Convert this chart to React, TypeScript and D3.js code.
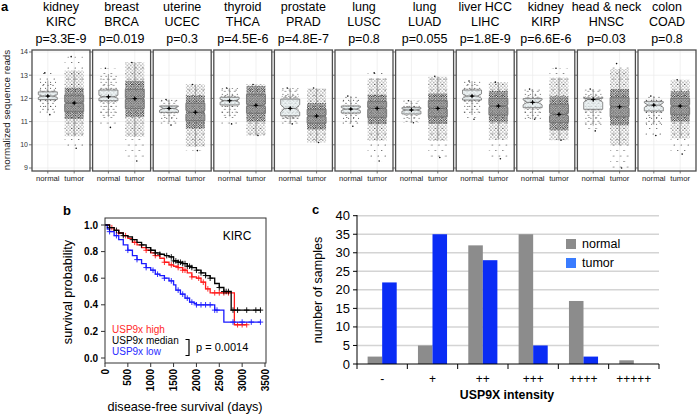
import React from "react";
import * as d3 from "d3";

const FONT = "'Liberation Sans', Arial, Helvetica, sans-serif";

// ---------- Panel a data ----------
const sites = ["kidney", "breast", "uterine", "thyroid", "prostate", "lung", "lung", "liver HCC", "kidney", "head & neck", "colon"];
const codes = ["KIRC", "BRCA", "UCEC", "THCA", "PRAD", "LUSC", "LUAD", "LIHC", "KIRP", "HNSC", "COAD"];
const pLabels = ["p=3.3E-9", "p=0.019", "p=0.3", "p=4.5E-6", "p=4.8E-7", "p=0.8", "p=0.055", "p=1.8E-9", "p=6.6E-6", "p=0.03", "p=0.8"];
const groups = ["normal", "tumor"];
const normalQ1 = [11.95, 11.9, 11.4, 11.72, 11.25, 11.37, 11.33, 11.93, 11.6, 11.53, 11.46];
const normalMed = [12.1, 12.07, 11.57, 11.9, 11.57, 11.54, 11.5, 12.1, 11.83, 11.95, 11.71];
const normalQ3 = [12.28, 12.36, 11.67, 12.05, 11.97, 11.67, 11.6, 12.36, 11.99, 12.0, 11.86];
const normalMin = [11.3, 10.75, 10.85, 10.9, 10.9, 10.8, 10.95, 11.1, 11.1, 10.6, 10.4];
const normalMax = [13.1, 13.3, 11.95, 12.45, 12.45, 12.1, 11.9, 12.75, 12.4, 12.4, 12.1];
const normalN = [72, 113, 24, 59, 52, 51, 59, 50, 32, 44, 41];
const tumorQ1 = [11.43, 11.57, 11.04, 11.36, 10.93, 11.19, 11.21, 11.29, 10.97, 11.21, 11.31];
const tumorMed = [11.8, 11.99, 11.4, 11.7, 11.24, 11.57, 11.57, 11.67, 11.31, 11.64, 11.67];
const tumorQ3 = [12.14, 12.39, 11.79, 12.17, 11.53, 11.86, 11.9, 12.0, 11.74, 12.03, 12.0];
const tumorMin = [9.85, 9.3, 9.75, 10.4, 10.1, 9.3, 9.45, 9.4, 10.2, 9.0, 9.6];
const tumorMax = [13.8, 13.55, 12.6, 12.6, 12.45, 13.1, 12.95, 12.7, 13.3, 13.5, 12.8];
const tumorN = [534, 1100, 180, 510, 498, 502, 517, 371, 291, 520, 290];
const yTicksA = [9, 10, 11, 12, 13, 14];

// ---------- Panel b data ----------
const highT = [0, 100, 200, 300, 400, 500, 600, 700, 800, 900, 1000, 1100, 1200, 1300, 1400, 1500, 1600, 1700, 1800, 1900, 2000, 2100, 2200, 2300, 2830];
const highS = [1.0, 0.98, 0.96, 0.94, 0.92, 0.9, 0.87, 0.85, 0.83, 0.81, 0.79, 0.77, 0.75, 0.72, 0.7, 0.69, 0.68, 0.66, 0.64, 0.61, 0.6, 0.57, 0.52, 0.49, 0.25];
const highEnd = 3100;
const highCensor = [150, 300, 450, 650, 900, 1100, 1300, 1450, 1600, 1700, 1750, 1900, 2050, 2150, 2250, 2400, 2500, 2600, 2700, 2900, 3000, 3100];
const medT = [0, 100, 200, 300, 400, 500, 600, 700, 800, 900, 1000, 1100, 1200, 1300, 1400, 1500, 1600, 1700, 1800, 1900, 2000, 2100, 2200, 2300, 2400, 2500, 2600, 2760];
const medS = [1.0, 0.98, 0.96, 0.94, 0.92, 0.91, 0.89, 0.87, 0.85, 0.83, 0.81, 0.79, 0.78, 0.77, 0.76, 0.73, 0.72, 0.71, 0.69, 0.68, 0.66, 0.64, 0.62, 0.6, 0.56, 0.53, 0.5, 0.36];
const medEnd = 3400;
const medCensor = [100, 250, 400, 600, 800, 1000, 1100, 1200, 1350, 1450, 1500, 1550, 1600, 1650, 1700, 1750, 1800, 1850, 1900, 2000, 2100, 2200, 2300, 2500, 2600, 2650, 2700, 2800, 2900, 3100, 3300, 3400];
const lowT = [0, 50, 100, 200, 300, 400, 500, 600, 700, 800, 900, 1000, 1100, 1200, 1300, 1400, 1500, 1550, 1650, 1750, 1850, 1950, 2000, 2400, 2600];
const lowS = [1.0, 0.97, 0.95, 0.92, 0.89, 0.85, 0.81, 0.77, 0.74, 0.71, 0.68, 0.66, 0.63, 0.62, 0.6, 0.58, 0.55, 0.51, 0.48, 0.45, 0.42, 0.41, 0.4, 0.36, 0.27];
const lowEnd = 3400;
const lowCensor = [100, 250, 500, 700, 900, 1050, 1150, 1300, 1450, 1600, 1700, 1800, 1900, 2000, 2100, 2200, 2300, 2400, 2450, 2800, 3000, 3200, 3400];
const xTicksB = [0, 500, 1000, 1500, 2000, 2500, 3000, 3500];
const yTicksB = [0, 0.2, 0.4, 0.6, 0.8, 1.0];

// ---------- Panel c data ----------
const intensity = ["-", "+", "++", "+++", "++++", "+++++"];
const series = ["normal", "tumor"];
const normalCounts = [2, 5, 32, 35, 17, 1];
const tumorCounts = [22, 35, 28, 5, 2, 0];
const yTicksC = [0, 5, 10, 15, 20, 25, 30, 35, 40];

// ---------- Panel a ----------
const yA = d3.scaleLinear().domain([9, 14]).range([168, 52]);
const panelW = 58;
const panelLeft = (i: number) => 32 + i * 60.6;
const xA = d3.scalePoint().domain(groups).range([0, panelW]).padding(0.6);

function BoxGroup({ cx, q1, med, q3, mn, mx, n, tumor }: any) {
  const iqr = q3 - q1;
  const hiW = Math.min(mx, q3 + 1.5 * iqr);
  const loW = Math.max(mn, q1 - 1.5 * iqr);
  const notch = (1.58 * iqr) / Math.sqrt(n);
  const w = 19;
  const ind = 4;
  const L = cx - w / 2, R = cx + w / 2;
  const jw = tumor ? 9.5 : 8.5;
  const path = [
    [L, yA(q3)], [R, yA(q3)], [R, yA(med + notch)], [R - ind, yA(med)], [R, yA(med - notch)],
    [R, yA(q1)], [L, yA(q1)], [L, yA(med - notch)], [L + ind, yA(med)], [L, yA(med + notch)],
  ];
  const d = "M" + path.map((p) => p.join(",")).join("L") + "Z";
  const innerHi = q3 + (tumor ? 0.45 : 0.2) * iqr;
  const innerLo = q1 - (tumor ? 0.45 : 0.2) * iqr;
  return (
    <g>
      <rect x={cx - jw} width={jw * 2} y={yA(mx)} height={yA(mn) - yA(mx)} fill="url(#vs)" />
      <rect x={cx - jw} width={jw * 2} y={yA(hiW)} height={yA(loW) - yA(hiW)} fill={tumor ? "url(#sp)" : "url(#vs2)"} />
      <rect x={cx - jw} width={jw * 2} y={yA(innerHi)} height={yA(innerLo) - yA(innerHi)} fill={tumor ? "url(#dn)" : "url(#sp)"} />
      <circle cx={cx - 3} cy={yA(mx)} r={0.8} fill="#111" />
      <circle cx={cx + 2} cy={yA(mn)} r={0.8} fill="#111" />
      <line x1={cx} x2={cx} y1={yA(q3)} y2={yA(hiW)} stroke="#8a8a8a" strokeWidth={0.8} />
      <line x1={cx} x2={cx} y1={yA(q1)} y2={yA(loW)} stroke="#8a8a8a" strokeWidth={0.8} />
      <path d={d} fill={tumor ? "#8f8f8f" : "#e8f1f2"} fillOpacity={tumor ? 0.55 : 0.7} stroke="#6e6e6e" strokeWidth={0.8} />
      <line x1={L + ind} x2={R - ind} y1={yA(med)} y2={yA(med)} stroke="#555" strokeWidth={0.8} />
      <line x1={cx - 2.2} x2={cx + 2.2} y1={yA(med)} y2={yA(med)} stroke="#000" strokeWidth={1} />
      <line x1={cx} x2={cx} y1={yA(med) - 2.2} y2={yA(med) + 2.2} stroke="#000" strokeWidth={1} />
      <circle cx={cx} cy={yA(med)} r={1.1} fill="#000" />
    </g>
  );
}

function PanelA() {
  return (
    <g>
      <text x={1} y={11} fontSize={13} fontWeight="bold" fontFamily={FONT}>a</text>
      <text transform={`translate(10,110) rotate(-90)`} textAnchor="middle" fontSize={9.8} fontFamily={FONT} fill="#222">normalized sequence reads</text>
      {yTicksA.map((t) => (
        <text key={t} x={28} y={yA(t)} dy="0.35em" textAnchor="end" fontSize={7} fontFamily={FONT} fill="#333">{t}</text>
      ))}
      {codes.map((code, i) => (
        <g key={code + i} transform={`translate(${panelLeft(i)},0)`}>
          {yTicksA.map((t) => (
            <line key={t} x1={0} x2={panelW} y1={yA(t)} y2={yA(t)} stroke="#ebebeb" strokeWidth={0.7} />
          ))}
          {groups.map((g) => (
            <line key={g} x1={xA(g)} x2={xA(g)} y1={50} y2={171} stroke="#ebebeb" strokeWidth={0.7} />
          ))}
          <BoxGroup cx={xA("normal")} q1={normalQ1[i]} med={normalMed[i]} q3={normalQ3[i]} mn={normalMin[i]} mx={normalMax[i]} n={normalN[i]} tumor={false} />
          <BoxGroup cx={xA("tumor")} q1={tumorQ1[i]} med={tumorMed[i]} q3={tumorQ3[i]} mn={tumorMin[i]} mx={tumorMax[i]} n={tumorN[i]} tumor={true} />
          <rect x={0} y={50} width={panelW} height={121} fill="none" stroke="#4d4d4d" strokeWidth={1.3} />
          {yTicksA.map((t) => (
            <line key={t} x1={-3} x2={0} y1={yA(t)} y2={yA(t)} stroke="#555" strokeWidth={0.8} />
          ))}
          {groups.map((g) => (
            <g key={g}>
              <line x1={xA(g)} x2={xA(g)} y1={171} y2={173.5} stroke="#555" strokeWidth={0.8} />
              <text x={xA(g)} y={181} textAnchor="middle" fontSize={7.7} fontFamily={FONT} fill="#222">{g}</text>
            </g>
          ))}
          <text x={panelW / 2} y={10.5} textAnchor="middle" fontSize={12.5} fontFamily={FONT}>{sites[i]}</text>
          <text x={panelW / 2} y={26} textAnchor="middle" fontSize={12.5} fontFamily={FONT}>{code}</text>
          <text x={panelW / 2} y={42.5} textAnchor="middle" fontSize={12.5} fontFamily={FONT}>{pLabels[i]}</text>
        </g>
      ))}
    </g>
  );
}

// ---------- Panel b ----------
const xB = d3.scaleLinear().domain([0, 3500]).range([105, 265]);
const yB = d3.scaleLinear().domain([0, 1]).range([358, 225]);
const stepLine = d3.line<[number, number]>().x((d) => xB(d[0])).y((d) => yB(d[1])).curve(d3.curveStepAfter);

function KM({ T, S, end, censor, color }: any) {
  const pts: [number, number][] = T.map((t: number, i: number) => [t, S[i]]);
  pts.push([end, S[S.length - 1]]);
  const at = (t: number) => {
    let v = S[0];
    for (let i = 0; i < T.length; i++) if (T[i] <= t) v = S[i];
    return v;
  };
  return (
    <g>
      <path d={stepLine(pts) || ""} fill="none" stroke={color} strokeWidth={1.3} />
      {censor.map((c: number, i: number) => {
        const x = xB(c), y = yB(at(c));
        return (
          <g key={i} stroke={color} strokeWidth={0.9}>
            <line x1={x - 2.8} x2={x + 2.8} y1={y} y2={y} />
            <line x1={x} x2={x} y1={y - 2.8} y2={y + 2.8} />
          </g>
        );
      })}
    </g>
  );
}

function PanelB() {
  return (
    <g fontFamily={FONT}>
      <text x={63} y={215} fontSize={13} fontWeight="bold">b</text>
      <KM T={highT} S={highS} end={highEnd} censor={highCensor} color="#ff1a1a" />
      <KM T={lowT} S={lowS} end={lowEnd} censor={lowCensor} color="#1a1aff" />
      <KM T={medT} S={medS} end={medEnd} censor={medCensor} color="#000" />
      <rect x={105} y={218} width={161} height={145} fill="none" stroke="#333" strokeWidth={1} />
      {yTicksB.map((t) => (
        <g key={t}>
          <line x1={101} x2={105} y1={yB(t)} y2={yB(t)} stroke="#333" />
          <text x={98} y={yB(t)} dy="0.35em" textAnchor="end" fontSize={10} fontWeight="bold">{d3.format(".1f")(t)}</text>
        </g>
      ))}
      {xTicksB.map((t) => (
        <g key={t}>
          <line x1={xB(t)} x2={xB(t)} y1={363} y2={367} stroke="#333" />
          <text transform={`translate(${xB(t)},369) rotate(-90)`} dy="0.35em" textAnchor="end" fontSize={10} fontWeight="bold">{t}</text>
        </g>
      ))}
      <text transform="translate(72,292) rotate(-90)" textAnchor="middle" fontSize={12.7}>survival probability</text>
      <text x={185} y={411} textAnchor="middle" fontSize={12.7}>disease-free survival (days)</text>
      <text x={237} y={240} textAnchor="middle" fontSize={12}>KIRC</text>
      <text x={112} y={333} fontSize={10} fill="#ff2a2a">USP9x high</text>
      <text x={112} y={344} fontSize={10} fill="#000">USP9x median</text>
      <text x={112} y={355} fontSize={10} fill="#2a2aff">USP9x low</text>
      <path d="M185.5,339.5H189V355.5H185.5" fill="none" stroke="#000" strokeWidth={1.2} />
      <text x={196} y={351} fontSize={11}>p = 0.0014</text>
    </g>
  );
}

// ---------- Panel c ----------
const xC = d3.scaleBand().domain(intensity).range([357, 659]);
const xSub = d3.scaleBand().domain(series).range([0, xC.bandwidth()]).paddingOuter(0.73);
const yC = d3.scaleLinear().domain([0, 40]).range([364, 215.7]);
const barColor: Record<string, string> = { normal: "#8c8c8c", tumor: "#0a2cf5" };
const legendColor: Record<string, string> = { normal: "#8c8c8c", tumor: "#3a7cff" };

function PanelC() {
  const counts: Record<string, number[]> = { normal: normalCounts, tumor: tumorCounts };
  return (
    <g fontFamily={FONT}>
      <text x={312} y={214} fontSize={13} fontWeight="bold">c</text>
      {yTicksC.filter((t) => t > 0).map((t) => (
        <line key={t} x1={357} x2={659} y1={yC(t)} y2={yC(t)} stroke="#d4d4d4" strokeWidth={1.5} />
      ))}
      {intensity.map((c, i) => (
        <g key={c} transform={`translate(${xC(c)},0)`}>
          {series.map((s) => (
            <rect key={s} x={xSub(s)} width={xSub.bandwidth()} y={yC(counts[s][i])} height={yC(0) - yC(counts[s][i])} fill={barColor[s]} />
          ))}
        </g>
      ))}
      <line x1={357} x2={357} y1={215} y2={364} stroke="#000" />
      {yTicksC.map((t) => (
        <g key={t}>
          <line x1={353} x2={357} y1={yC(t)} y2={yC(t)} stroke="#000" />
          <text x={350} y={yC(t)} dy="0.35em" textAnchor="end" fontSize={13}>{t}</text>
        </g>
      ))}
      <line x1={357} x2={659} y1={364} y2={364} stroke="#000" />
      {intensity.map((c) => (
        <g key={c}>
          <line x1={xC(c)} x2={xC(c)} y1={364} y2={369} stroke="#000" />
          <text x={(xC(c) as number) + xC.bandwidth() / 2} y={383} textAnchor="middle" fontSize={12}>{c}</text>
        </g>
      ))}
      <line x1={659} x2={659} y1={364} y2={369} stroke="#000" />
      <text x={507} y={399} textAnchor="middle" fontSize={12.3} fontWeight="bold">USP9X intensity</text>
      <text transform="translate(322,290) rotate(-90)" textAnchor="middle" fontSize={12.5}>number of samples</text>
      {series.map((s, i) => (
        <g key={s}>
          <rect x={566} y={239 + i * 19} width={10} height={10} fill={legendColor[s]} />
          <text x={582} y={248 + i * 19} fontSize={12.5}>{s}</text>
        </g>
      ))}
    </g>
  );
}

export default function App() {
  return (
    <div style={{ position: "absolute", left: 0, top: 0 }}>
      <svg width={700} height={414} style={{ display: "block", background: "#fff" }}>
        <defs>
          <pattern id="dn" width={2.4} height={2.4} patternUnits="userSpaceOnUse">
            <circle cx={0.6} cy={0.6} r={0.6} fill="#000" />
            <circle cx={1.8} cy={1.8} r={0.55} fill="#111" />
          </pattern>
          <pattern id="sp" width={3.4} height={3.4} patternUnits="userSpaceOnUse">
            <circle cx={0.8} cy={0.9} r={0.55} fill="#111" />
            <circle cx={2.5} cy={2.6} r={0.5} fill="#222" />
          </pattern>
          <pattern id="vs2" width={5} height={6} patternUnits="userSpaceOnUse">
            <circle cx={1} cy={1.2} r={0.55} fill="#222" />
            <circle cx={3.6} cy={4.2} r={0.5} fill="#222" />
          </pattern>
          <pattern id="vs" width={7} height={11} patternUnits="userSpaceOnUse">
            <circle cx={1.2} cy={2} r={0.55} fill="#222" />
            <circle cx={4.8} cy={7.5} r={0.55} fill="#222" />
          </pattern>
        </defs>
        <PanelA />
        <PanelB />
        <PanelC />
      </svg>
    </div>
  );
}
